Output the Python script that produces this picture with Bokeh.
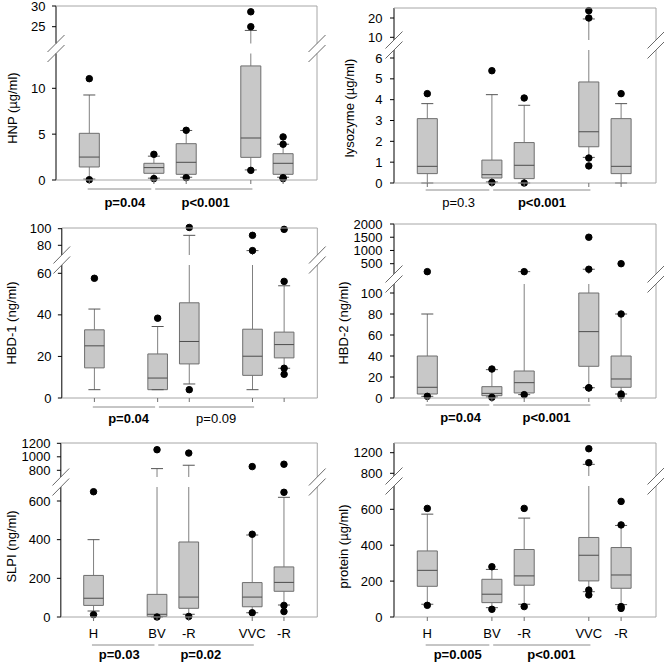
from bokeh.plotting import figure
from bokeh.layouts import column, row
from bokeh.models import (ColumnDataSource, Range1d, FixedTicker,
                          CustomJSTransform, CustomJSTickFormatter)
from bokeh.core.properties import value
from bokeh.transform import transform, dodge
from bokeh.embed import file_html
from bokeh.resources import INLINE

# ---------------- data ----------------
CATEGORIES = ["H", "BV", "-R", "VVC", "-R"]

HNP_LOW = [0.1, 0.2, 0.3, 1.1, 0.3]
HNP_Q1 = [1.42, 0.73, 0.62, 2.47, 0.62]
HNP_MED = [2.5, 1.35, 1.93, 4.58, 1.82]
HNP_Q3 = [5.09, 1.82, 3.96, 12.44, 2.87]
HNP_HIGH = [9.27, 2.6, 5.4, 24.1, 3.9]
HNP_OUT = [[11.05, 0.03], [2.8, 0.15], [5.42, 0.25], [25.0, 28.6, 1.05], [3.9, 4.7, 0.25, 0.15]]
HNP_TICKS = [0, 5, 10, 25, 30]
HNP_P = ["p=0.04", "p<0.001"]

LYS_LOW = [0.0, 0.05, 0.0, 1.23, 0.0]
LYS_Q1 = [0.45, 0.24, 0.21, 1.74, 0.45]
LYS_MED = [0.8, 0.4, 0.85, 2.46, 0.8]
LYS_Q3 = [3.09, 1.1, 1.94, 4.85, 3.09]
LYS_HIGH = [3.81, 4.24, 3.73, 19.5, 3.81]
LYS_OUT = [[4.29], [5.39, 0.03], [4.08, 0.0], [1.2, 0.82, 20.0, 23.8], [4.29]]
LYS_TICKS = [0, 1, 2, 3, 4, 5, 6, 10, 20]
LYS_P = ["p=0.3", "p<0.001"]

HBD1_LOW = [4.0, 4.0, 6.75, 4.0, 14.3]
HBD1_Q1 = [14.5, 4.0, 16.4, 10.9, 19.3]
HBD1_MED = [25.1, 9.6, 27.2, 20.1, 25.7]
HBD1_Q3 = [32.8, 21.2, 45.8, 33.1, 31.7]
HBD1_HIGH = [42.8, 34.4, 92.0, 73.6, 54.0]
HBD1_OUT = [[57.6], [38.4], [101.5, 4.0], [92.0, 73.6], [56.1, 99.2, 14.3, 11.4]]
HBD1_TICKS = [0, 20, 40, 60, 80, 100]
HBD1_P = ["p=0.04", "p=0.09"]

HBD2_LOW = [1.6, 1.0, 3.2, 9.8, 3.8]
HBD2_Q1 = [3.8, 2.2, 4.8, 30.2, 10.2]
HBD2_MED = [10.2, 4.4, 14.6, 63.2, 18.1]
HBD2_Q3 = [40.0, 10.8, 25.7, 100.0, 40.0]
HBD2_HIGH = [80.0, 27.0, 200.0, 290.0, 80.0]
HBD2_OUT = [[1.6, 200.0], [27.6, 0.6], [200.0, 3.2], [9.8, 9.5, 290.0, 1500.0], [80.0, 3.8, 2.2, 500.0]]
HBD2_TICKS = [0, 20, 40, 60, 80, 100, 500, 1000, 1500, 2000]
HBD2_P = ["p=0.04", "p<0.001"]

SLPI_LOW = [31, 0, 14, 22, 62]
SLPI_Q1 = [60, 3, 45, 53, 133]
SLPI_MED = [97, 14, 103, 103, 179]
SLPI_Q3 = [215, 117, 388, 178, 259]
SLPI_HIGH = [400, 825, 875, 424, 619]
SLPI_OUT = [[648, 12], [1105, 0], [1055, 3], [428, 22, 855], [645, 60, 28, 890]]
SLPI_TICKS = [0, 200, 400, 600, 800, 1000, 1200]
SLPI_P = ["p=0.03", "p=0.02"]

PROT_LOW = [71, 52, 71, 141, 69]
PROT_Q1 = [171, 80, 177, 201, 160]
PROT_MED = [260, 127, 229, 344, 234]
PROT_Q3 = [368, 210, 376, 443, 387]
PROT_HIGH = [573, 265, 551, 974, 510]
PROT_OUT = [[605, 65], [280, 43], [605, 58], [150, 123, 1006, 1277], [513, 644, 58, 48]]
PROT_TICKS = [0, 200, 400, 600, 800, 1200]
PROT_P = ["p=0.005", "p<0.001"]

# ---------------- layout / style ----------------
X_POS = [1, 3, 4, 6, 7]
PX = 32.3                      # pixels per x unit
FONT = "Liberation Sans"
BOX_FILL = "#c8c8c8"
BOX_LINE = "#6e6e6e"
WHISKER = "#808080"
CAP = "#555555"
MEDIAN = "#4d4d4d"
FRAME = "#a6a6a6"
PLINE = "#8c8c8c"
SLASH = "#6a6a6a"
BOX_W = 0.62

# column geometry (canvas px): frame-left, x=0 origin, axis line, right line
COLS = [dict(w=332, ml=46, origin=56.5, ax=55.5, rx=316.5),
        dict(w=332, ml=51, origin=62.5, ax=61.5, rx=323.5)]

PANELS = [
    dict(label="HNP (µg/ml)", data=(HNP_LOW, HNP_Q1, HNP_MED, HNP_Q3, HNP_HIGH, HNP_OUT),
         ticks=HNP_TICKS, pvals=HNP_P, bold=(True, True), col=0, h=215, axis_y=179.5, top=174,
         lo=((0, 0), (10, 91.7)), lo_top=126.5, up=((25, 153.3), (30, 174)), up_bot=136.5,
         line_y=-9, text_y=-22, text_x=(2.1, 4.6), xlabels=False, standoff=8),
    dict(label="lysozyme (µg/ml)", data=(LYS_LOW, LYS_Q1, LYS_MED, LYS_Q3, LYS_HIGH, LYS_OUT),
         ticks=LYS_TICKS, pvals=LYS_P, bold=(False, True), col=1, h=215, axis_y=182.5, top=175,
         lo=((0, 0), (6, 125)), lo_top=133, up=((10, 145.7), (20, 165)), up_bot=143,
         line_y=-7, text_y=-19, text_x=(1.97, 4.55), xlabels=False, standoff=8),
    dict(label="HBD-1 (ng/ml)", data=(HBD1_LOW, HBD1_Q1, HBD1_MED, HBD1_Q3, HBD1_HIGH, HBD1_OUT),
         ticks=HBD1_TICKS, pvals=HBD1_P, bold=(True, False), col=0, h=215, axis_y=182.5, top=170,
         lo=((0, 0), (60, 124.7)), lo_top=133, up=((80, 152.7), (100, 169.3)), up_bot=143,
         line_y=-9, text_y=-20, text_x=(2.08, 4.85), xlabels=False, standoff=8),
    dict(label="HBD-2 (ng/ml)", data=(HBD2_LOW, HBD2_Q1, HBD2_MED, HBD2_Q3, HBD2_HIGH, HBD2_OUT),
         ticks=HBD2_TICKS, pvals=HBD2_P, bold=(True, True), col=1, h=215, axis_y=182.5, top=174,
         lo=((0, 0), (100, 105)), lo_top=114, up=((500, 134.3), (2000, 174)), up_bot=124,
         line_y=-7, text_y=-19.5, text_x=(2.03, 4.69), xlabels=False, standoff=0),
    dict(label="SLPI (ng/ml)", data=(SLPI_LOW, SLPI_Q1, SLPI_MED, SLPI_Q3, SLPI_HIGH, SLPI_OUT),
         ticks=SLPI_TICKS, pvals=SLPI_P, bold=(True, True), col=0, h=232, axis_y=186.5, top=174,
         lo=((0, 0), (600, 116)), lo_top=130, up=((800, 146.7), (1200, 173.7)), up_bot=140,
         line_y=-28, text_y=-37, text_x=(1.81, 4.38), xlabels=True, standoff=0),
    dict(label="protein (µg/ml)", data=(PROT_LOW, PROT_Q1, PROT_MED, PROT_Q3, PROT_HIGH, PROT_OUT),
         ticks=PROT_TICKS, pvals=PROT_P, bold=(True, True), col=1, h=232, axis_y=186.5, top=174,
         lo=((0, 0), (600, 107.7)), lo_top=131, up=((800, 143.7), (1200, 164.3)), up_bot=141,
         line_y=-28, text_y=-37, text_x=(1.94, 4.84), xlabels=True, standoff=0),
]

FUNC = """
const ylo = lo_a + lo_b * x;
if (ylo <= lo_top) { return ylo; }
const yup = up_a + up_b * x;
if (yup >= up_bot) { return yup; }
return 0.5 * (lo_top + up_bot);
"""
VFUNC = """
const out = new Float64Array(xs.length);
for (let i = 0; i < xs.length; i++) {
  const v = xs[i];
  const ylo = lo_a + lo_b * v;
  if (ylo <= lo_top) { out[i] = ylo; continue; }
  const yup = up_a + up_b * v;
  if (yup >= up_bot) { out[i] = yup; continue; }
  out[i] = 0.5 * (lo_top + up_bot);
}
return out;
"""
FMT = """
const v = (tick <= lo_top + 0.01) ? (tick - lo_a) / lo_b : (tick - up_a) / up_b;
return String(Math.round(v));
"""


def make_panel(cfg):
    col = COLS[cfg["col"]]
    W, H = col["w"], cfg["h"]
    ml = col["ml"]
    def cx(c):               # canvas px -> data x
        return (c - col["origin"]) / PX
    x_ax, x_r = cx(col["ax"]), cx(col["rx"])
    xr = Range1d(cx(ml), cx(W))
    yr = Range1d(cfg["axis_y"] - H, cfg["axis_y"])
    p = figure(width=W, height=H, x_range=xr, y_range=yr, output_backend="svg",
               toolbar_location=None, x_axis_location=None,
               min_border_left=ml, min_border_right=0, min_border_top=0, min_border_bottom=0,
               outline_line_color=None, background_fill_color="white", border_fill_color="white")
    p.grid.visible = False

    (v0, p0), (v1, p1) = cfg["lo"]
    lo_b = (p1 - p0) / (v1 - v0)
    lo_a = p0 - lo_b * v0
    (u0, q0), (u1, q1) = cfg["up"]
    up_b = (q1 - q0) / (u1 - u0)
    up_a = q0 - up_b * u0
    lo_top, up_bot, top = cfg["lo_top"], cfg["up_bot"], cfg["top"]
    args = dict(lo_a=lo_a, lo_b=lo_b, lo_top=lo_top, up_a=up_a, up_b=up_b, up_bot=up_bot)
    brk = CustomJSTransform(args=args, func=FUNC, v_func=VFUNC)

    def to_px(v):
        y = lo_a + lo_b * v
        return y if y <= lo_top else up_a + up_b * v

    low, q1s, med, q3s, high, outs = cfg["data"]
    src = ColumnDataSource(dict(x=X_POS, cat=CATEGORIES, low=low, q1=q1s, med=med, q3=q3s, high=high))
    ox, ov = [], []
    for xp, lst in zip(X_POS, outs):
        for v in lst:
            ox.append(xp)
            ov.append(v)
    osrc = ColumnDataSource(dict(x=ox, v=ov))

    # whiskers
    p.segment(x0="x", y0=transform("low", brk), x1="x", y1=transform("q1", brk),
              line_color=WHISKER, line_width=1, source=src)
    p.segment(x0="x", y0=transform("q3", brk), x1="x", y1=transform("high", brk),
              line_color=WHISKER, line_width=1, source=src)
    # gap of the broken axis
    p.quad(left=[x_ax], right=[x_r], bottom=[lo_top], top=[up_bot],
           fill_color="white", line_color=None)
    # boxes, medians, caps, outliers
    p.vbar(x="x", width=BOX_W, bottom=transform("q1", brk), top=transform("q3", brk),
           fill_color=BOX_FILL, line_color=BOX_LINE, line_width=1, source=src)
    p.segment(x0=dodge("x", -BOX_W / 2), y0=transform("med", brk),
              x1=dodge("x", BOX_W / 2), y1=transform("med", brk),
              line_color=MEDIAN, line_width=1, source=src)
    p.scatter(x="x", y=transform("low", brk), marker="dash", size=12,
              line_color=CAP, line_width=1, source=src)
    p.scatter(x="x", y=transform("high", brk), marker="dash", size=12,
              line_color=CAP, line_width=1, source=src)
    p.scatter(x="x", y=transform("v", brk), size=6.5, fill_color="black", line_color="black",
              source=osrc)

    # frame lines (broken left axis and right edge)
    p.segment(x0=[x_ax, x_ax], y0=[0, up_bot], x1=[x_ax, x_ax], y1=[lo_top, top],
              line_color="black", line_width=1)
    p.segment(x0=[x_r, x_r, x_ax, x_ax], y0=[0, up_bot, top, 0],
              x1=[x_r, x_r, x_r, x_r], y1=[lo_top, top, top, 0],
              line_color=FRAME, line_width=1)
    # y ticks
    tpx = [to_px(t) for t in cfg["ticks"]]
    p.segment(x0=[x_ax - 4 / PX] * len(tpx), y0=tpx, x1=[x_ax] * len(tpx), y1=tpx,
              line_color="black", line_width=1)
    # x ticks
    p.segment(x0=X_POS, y0=[0] * len(X_POS), x1=X_POS, y1=[-4] * len(X_POS),
              line_color="#707070", line_width=1)
    # break slashes
    h = 8.5
    sx0, sy0, sx1, sy1 = [], [], [], []
    for xc in (x_ax, x_r):
        for yc in (lo_top, up_bot):
            sx0.append(xc - h / PX); sy0.append(yc - h)
            sx1.append(xc + h / PX); sy1.append(yc + h)
    p.segment(x0=sx0, y0=sy0, x1=sx1, y1=sy1, line_color=SLASH, line_width=1)

    # category labels
    if cfg["xlabels"]:
        p.text(x=X_POS, y=[-16] * len(X_POS), text=CATEGORIES, text_align="center",
               text_baseline="middle", text_font=value(FONT), text_font_size=value("13px"),
               text_color="black")

    # significance lines and labels
    ly = cfg["line_y"]
    p.segment(x0=[X_POS[0] - 0.05, X_POS[1] + 0.04], y0=[ly, ly],
              x1=[X_POS[1] - 0.08, X_POS[3] + 0.05], y1=[ly, ly],
              line_color=PLINE, line_width=1)
    for tx, txt, bold in zip(cfg["text_x"], cfg["pvals"], cfg["bold"]):
        p.text(x=[tx], y=[cfg["text_y"]], text=[txt], text_align="center",
               text_baseline="middle", text_font=value(FONT), text_font_size=value("13px"),
               text_font_style="bold" if bold else "normal", text_color="black")

    # y axis: labels only (line and ticks are drawn above)
    ya = p.yaxis[0]
    ya.ticker = FixedTicker(ticks=tpx)
    ya.formatter = CustomJSTickFormatter(args=args, code=FMT)
    ya.axis_line_color = None
    ya.major_tick_line_color = None
    ya.minor_tick_line_color = None
    ya.major_tick_out = 0
    ya.major_tick_in = 0
    ya.major_label_text_font = FONT
    ya.major_label_text_font_size = "13px"
    ya.major_label_text_color = "black"
    ya.major_label_standoff = 1
    ya.axis_label = cfg["label"]
    ya.axis_label_text_font = FONT
    ya.axis_label_text_font_size = "13px"
    ya.axis_label_text_font_style = "normal"
    ya.axis_label_text_color = "black"
    ya.axis_label_standoff = cfg["standoff"]
    return p


figs = [make_panel(c) for c in PANELS]
layout = column(row(figs[0], figs[1]), row(figs[2], figs[3]), row(figs[4], figs[5]))

with open("out.html", "w") as f:
    f.write(file_html(layout, INLINE))
